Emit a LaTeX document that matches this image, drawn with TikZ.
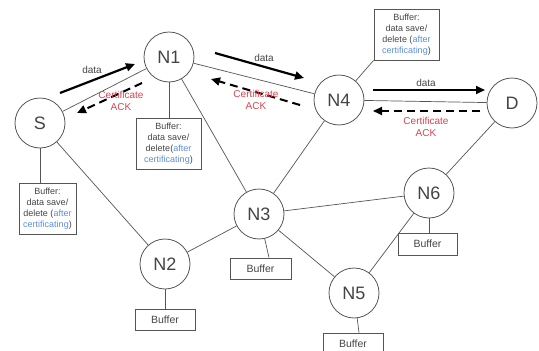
\documentclass[tikz,border=0pt]{standalone}
\usepackage{fontspec}
\setmainfont{Liberation Sans}
\usetikzlibrary{arrows.meta}
\definecolor{linegray}{HTML}{555555}
\definecolor{txtgray}{HTML}{444444}
\definecolor{ackred}{HTML}{D9434F}
\definecolor{certblue}{HTML}{5B8FD8}
\newcommand{\aft}[1]{\textcolor{certblue}{#1}}
\begin{document}
\begin{tikzpicture}[x=1pt,y=-1pt,
  peer/.style={circle,draw=linegray,line width=0.8pt,minimum size=50pt,inner sep=0pt,
    font=\fontsize{18}{20}\selectfont,text=txtgray},
  link/.style={draw=linegray,line width=0.7pt},
  bufbox/.style={draw=linegray,line width=0.9pt,inner sep=0pt,align=center,
    font=\fontsize{9}{11}\selectfont,text=txtgray},
  smallbuf/.style={bufbox,font=\fontsize{10.5}{12}\selectfont},
  dataarrow/.style={line width=2.2pt,-{Triangle[length=9pt,width=8pt]}},
  ackarrow/.style={line width=2pt,dash pattern=on 8pt off 5pt,-{Triangle[length=9pt,width=8pt]}},
  datalbl/.style={font=\fontsize{10}{12}\selectfont,text=txtgray},
  acklbl/.style={font=\fontsize{10}{11.5}\selectfont,text=ackred,align=center}]
\useasboundingbox (0,0) rectangle (539,351);

% network nodes
\node[peer] (s)  at (40,123)  {S};
\node[peer] (n1) at (169,57)  {N1};
\node[peer] (n4) at (339,100) {N4};
\node[peer] (d)  at (512,103) {D};
\node[peer] (n3) at (259,214) {N3};
\node[peer] (n2) at (165,264) {N2};
\node[peer] (n5) at (354,293) {N5};
\node[peer] (n6) at (429,193) {N6};

% links between nodes
\draw[link] (s) -- (n1);
\draw[link] (n1) -- (n4);
\draw[link] (n4) -- (d);
\draw[link] (s) -- (n2);
\draw[link] (n1) -- (n3);
\draw[link] (n4) -- (n3);
\draw[link] (n3) -- (n2);
\draw[link] (n3) -- (n6);
\draw[link] (n3) -- (n5);
\draw[link] (n5) -- (n6);
\draw[link] (n6) -- (d);

% buffers
\node[bufbox,minimum width=57pt,minimum height=51pt] (bs) at (47.5,208.5)
  {Buffer:\\data save/\\delete (\aft{after}\\\aft{certificating})};
\node[bufbox,minimum width=65pt,minimum height=51pt] (b1) at (168.5,143.5)
  {Buffer:\\data save/\\delete(\aft{after}\\\aft{certificating})};
\node[bufbox,minimum width=65pt,minimum height=51pt] (b4) at (406.5,34.5)
  {Buffer:\\data save/\\delete (\aft{after}\\\aft{certificating})};
\node[smallbuf,minimum width=61pt,minimum height=21pt] (b3) at (260.5,268.5) {Buffer};
\node[smallbuf,minimum width=60pt,minimum height=21pt] (b2) at (165,319.5) {Buffer};
\node[smallbuf,minimum width=60pt,minimum height=21pt] (b5) at (353,343.5) {Buffer};
\node[smallbuf,minimum width=59pt,minimum height=22pt] (b6) at (427.5,244) {Buffer};

\draw[link] (s) -- (bs.north -| s);
\draw[link] (n1) -- (b1.north -| n1);
\draw[link] (n4) -- (b4.south west);
\draw[link] (n3) -- ([xshift=8.5pt]b3.north);
\draw[link] (n2) -- (b2.north -| n2);
\draw[link] (n5) -- ([xshift=6pt]b5.north);
\draw[link] (n6) -- (b6.north -| n6);

% data flow and acknowledgements
\coordinate (a1s) at (60,93);   \coordinate (a1e) at (135,64);
\coordinate (k1s) at (142,83);  \coordinate (k1e) at (77,113);
\coordinate (a2s) at (215,53);  \coordinate (a2e) at (304,78);
\coordinate (k2s) at (300,105); \coordinate (k2e) at (211,79);
\coordinate (a3s) at (373,90);  \coordinate (a3e) at (485,90);
\coordinate (k3s) at (480,111); \coordinate (k3e) at (373,111);

\draw[dataarrow] (a1s) -- (a1e);
\draw[ackarrow] (k1s) -- (k1e);
\draw[dataarrow] (a2s) -- (a2e);
\draw[ackarrow] (k2s) -- (k2e);
\draw[dataarrow] (a3s) -- (a3e);
\draw[ackarrow] (k3s) -- (k3e);

\node[datalbl] (l1) at (92,70) {data};
\node[datalbl] (l2) at (264,58) {data};
\node[datalbl] (l3) at (426,83) {data};
\node[acklbl] (c1) at (121,101) {Certificate\\ACK};
\node[acklbl] (c2) at (256,100) {Certificate\\ACK};
\node[acklbl] (c3) at (426,127) {Certificate\\ACK};
\end{tikzpicture}
\end{document}
